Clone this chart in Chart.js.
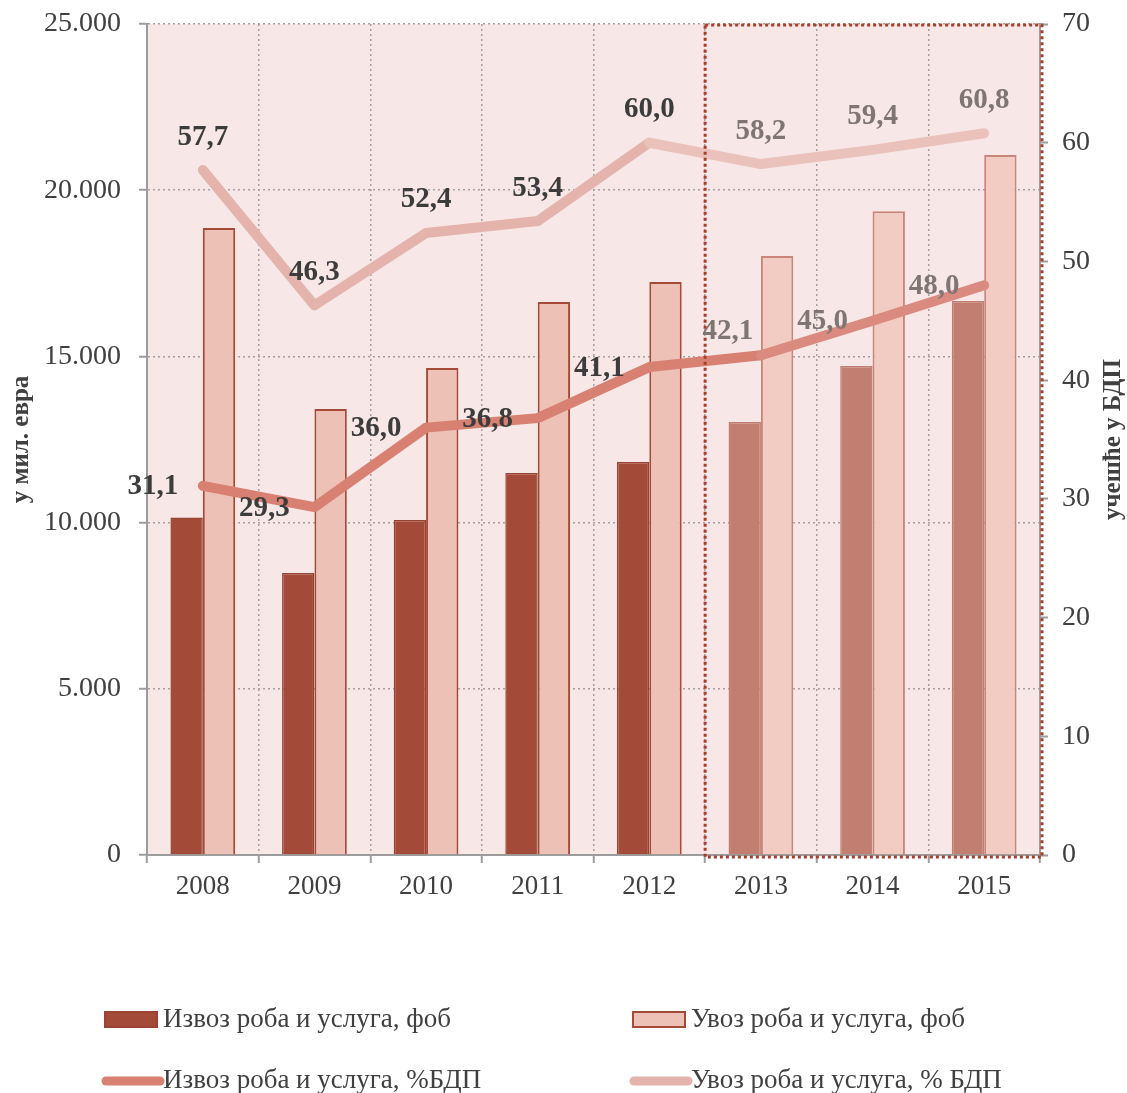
<!DOCTYPE html>
<html>
<head>
<meta charset="utf-8">
<script src="https://cdn.jsdelivr.net/npm/chart.js@4.4.0/dist/chart.umd.min.js"></script>
<style>
  body { margin: 0; background: #fff; }
  #wrap { width: 1127px; height: 1093px; }
</style>
</head>
<body>
<div id="wrap"><canvas id="chart" width="1127" height="1093"></canvas></div>
<script>
const years = ['2008', '2009', '2010', '2011', '2012', '2013', '2014', '2015'];
const exportValues = [10150, 8480, 10080, 11490, 11820, 13030, 14710, 16670];
const importValues = [18860, 13420, 14650, 16640, 17240, 18020, 19370, 21060];
const exportShare = [31.1, 29.3, 36.0, 36.8, 41.1, 42.1, 45.0, 48.0];
const importShare = [57.7, 46.3, 52.4, 53.4, 60.0, 58.2, 59.4, 60.8];
const leftTicks = [0, 5000, 10000, 15000, 20000, 25000];
const rightTicks = [0, 10, 20, 30, 40, 50, 60, 70];
const firstForecast = 5; // 2013 onward is drawn lighter

const FONT = '"Liberation Serif", "Times New Roman", serif';
const TEXT = '#404040';

const perYear = (a, b) => years.map((_, i) => i < firstForecast ? a : b);

// group thousands with a dot
const fmtThousands = v => String(v).replace(/\B(?=(\d{3})+(?!\d))/g, '.');
const fmtShare = v => v.toFixed(1).replace('.', ',');

const backgroundPlugin = {
    id: 'plotBackground',
    beforeDraw(chart) {
        const { ctx, chartArea: a } = chart;
        ctx.save();
        ctx.fillStyle = '#F7E7E6';
        ctx.fillRect(a.left, a.top, a.right - a.left, a.bottom - a.top);
        ctx.restore();
    }
};

const extrasPlugin = {
    id: 'extras',
    afterDatasetsDraw(chart) {
        const { ctx, chartArea: a, scales } = chart;
        const x = scales.x;

        // dotted frame around the forecast years
        const edge = (x.getPixelForValue(firstForecast - 1) + x.getPixelForValue(firstForecast)) / 2;
        ctx.save();
        ctx.strokeStyle = '#A63E2C';
        ctx.lineWidth = 3;
        ctx.setLineDash([3, 3]);
        ctx.strokeRect(edge, a.top + 1, a.right + 2 - edge, a.bottom + 1 - a.top);
        ctx.restore();

        // value labels on the two share lines
        ctx.save();
        ctx.font = 'bold 29px ' + FONT;
        ctx.textAlign = 'center';
        ctx.textBaseline = 'middle';
        const exportMeta = chart.getDatasetMeta(2);
        const importMeta = chart.getDatasetMeta(3);
        exportMeta.data.forEach((pt, i) => {
            ctx.fillStyle = i < firstForecast ? '#3C3C3C' : '#7F7574';
            const dx = i === firstForecast ? -33 : -50;
            const dy = i === firstForecast ? -24 : 1;
            ctx.fillText(fmtShare(exportShare[i]), pt.x + dx, pt.y + dy);
        });
        importMeta.data.forEach((pt, i) => {
            ctx.fillStyle = i < firstForecast ? '#3C3C3C' : '#7F7574';
            ctx.fillText(fmtShare(importShare[i]), pt.x, pt.y - 33);
        });
        ctx.restore();
    },
    afterDraw(chart) {
        const { ctx, chartArea: a } = chart;
        const midY = (a.top + a.bottom) / 2;

        // axis titles
        ctx.save();
        ctx.fillStyle = TEXT;
        ctx.font = 'bold 25px ' + FONT;
        ctx.textAlign = 'center';
        ctx.textBaseline = 'middle';
        ctx.translate(22, midY);
        ctx.rotate(-Math.PI / 2);
        ctx.fillText('у мил. евра', 0, 0);
        ctx.restore();

        ctx.save();
        ctx.fillStyle = TEXT;
        ctx.font = 'bold 25px ' + FONT;
        ctx.textAlign = 'center';
        ctx.textBaseline = 'middle';
        ctx.translate(1114, midY);
        ctx.rotate(-Math.PI / 2);
        ctx.fillText('учешће у БДП', 0, 0);
        ctx.restore();

        // legend, two columns
        const cols = [104, 632];
        const rows = [1020, 1081];
        const ds = chart.data.datasets;
        const items = [
            { d: ds[0], col: 0, row: 0, kind: 'box' },
            { d: ds[1], col: 1, row: 0, kind: 'box' },
            { d: ds[2], col: 0, row: 1, kind: 'line' },
            { d: ds[3], col: 1, row: 1, kind: 'line' }
        ];
        ctx.save();
        ctx.font = '27px ' + FONT;
        ctx.textBaseline = 'middle';
        items.forEach(it => {
            const lx = cols[it.col];
            const ly = rows[it.row];
            if (it.kind === 'box') {
                const fill = Array.isArray(it.d.backgroundColor) ? it.d.backgroundColor[0] : it.d.backgroundColor;
                const stroke = Array.isArray(it.d.borderColor) ? it.d.borderColor[0] : it.d.borderColor;
                ctx.fillStyle = fill;
                ctx.fillRect(lx + 1, ly - 8, 52, 15);
                ctx.strokeStyle = stroke;
                ctx.lineWidth = 2;
                ctx.strokeRect(lx + 1, ly - 8, 52, 15);
            } else {
                ctx.strokeStyle = it.d.borderColor;
                ctx.lineWidth = 9;
                ctx.lineCap = 'round';
                ctx.beginPath();
                ctx.moveTo(lx + 2, ly);
                ctx.lineTo(lx + 56, ly);
                ctx.stroke();
            }
            ctx.fillStyle = TEXT;
            ctx.fillText(it.d.label, lx + 59, ly);
        });
        ctx.restore();
    }
};

const gridColor = '#A8A0A0';
const axisColor = '#9C9C9C';

// keep the tick labels from pushing the plot area down
function fixVertical(width) {
    return scale => {
        scale.width = width;
        scale.paddingTop = 0;
        scale.paddingBottom = 0;
    };
}

new Chart(document.getElementById('chart'), {
    data: {
        labels: years,
        datasets: [
            {
                type: 'bar',
                label: 'Извоз роба и услуга, фоб',
                data: exportValues,
                yAxisID: 'y',
                order: 2,
                backgroundColor: perYear('#A34B38', '#C17E71'),
                borderColor: perYear('#9A4333', '#C17E71'),
                borderWidth: 1.5,
                barPercentage: 1,
                categoryPercentage: 0.58
            },
            {
                type: 'bar',
                label: 'Увоз роба и услуга, фоб',
                data: importValues,
                yAxisID: 'y',
                order: 2,
                backgroundColor: perYear('#EEC1B7', '#F2CBC2'),
                borderColor: perYear('#A34B38', '#C8877A'),
                borderWidth: 2,
                barPercentage: 1,
                categoryPercentage: 0.58
            },
            {
                type: 'line',
                label: 'Извоз роба и услуга, %БДП',
                data: exportShare,
                yAxisID: 'y1',
                order: 1,
                borderColor: '#D88173',
                borderWidth: 10,
                borderCapStyle: 'round',
                borderJoinStyle: 'round',
                pointRadius: 0,
                tension: 0,
                segment: {
                    borderColor: c => c.p0DataIndex >= firstForecast ? '#DA8A7E' : '#D88173'
                }
            },
            {
                type: 'line',
                label: 'Увоз роба и услуга, % БДП',
                data: importShare,
                yAxisID: 'y1',
                order: 1,
                borderColor: '#E4B4AC',
                borderWidth: 10,
                borderCapStyle: 'round',
                borderJoinStyle: 'round',
                pointRadius: 0,
                tension: 0,
                segment: {
                    borderColor: c => c.p0DataIndex >= firstForecast - 1 ? '#EAC2BB' : '#E4B4AC'
                }
            }
        ]
    },
    options: {
        responsive: false,
        animation: false,
        layout: { padding: { top: 24, left: 0, right: 0, bottom: 178 } },
        plugins: {
            legend: { display: false },
            tooltip: { enabled: false }
        },
        scales: {
            x: {
                offset: true,
                grid: {
                    offset: true,
                    color: gridColor,
                    lineWidth: 1.5,
                    tickLength: 8,
                    tickColor: axisColor,
                    tickWidth: 2,
                    tickBorderDash: []
                },
                border: { color: axisColor, width: 2, dash: [2, 3] },
                ticks: {
                    color: TEXT,
                    font: { family: FONT, size: 27 },
                    padding: 8,
                    maxRotation: 0
                },
                afterFit(scale) { scale.height = 60; }
            },
            y: {
                position: 'left',
                min: 0,
                max: 25000,
                afterBuildTicks(scale) { scale.ticks = leftTicks.map(v => ({ value: v })); },
                grid: {
                    color: gridColor,
                    lineWidth: 1.5,
                    tickLength: 8,
                    tickColor: axisColor,
                    tickWidth: 2,
                    tickBorderDash: []
                },
                border: { color: axisColor, width: 2, dash: [2, 3] },
                ticks: {
                    color: TEXT,
                    font: { family: FONT, size: 28 },
                    padding: 18,
                    callback: v => fmtThousands(v)
                },
                afterFit: fixVertical(147)
            },
            y1: {
                position: 'right',
                min: 0,
                max: 70,
                afterBuildTicks(scale) { scale.ticks = rightTicks.map(v => ({ value: v })); },
                grid: {
                    drawOnChartArea: false,
                    tickLength: 8,
                    tickColor: axisColor,
                    tickWidth: 2
                },
                border: { color: axisColor, width: 2 },
                ticks: {
                    color: TEXT,
                    font: { family: FONT, size: 28 },
                    padding: 14
                },
                afterFit: fixVertical(87)
            }
        }
    },
    plugins: [backgroundPlugin, extrasPlugin]
});
</script>
</body>
</html>
